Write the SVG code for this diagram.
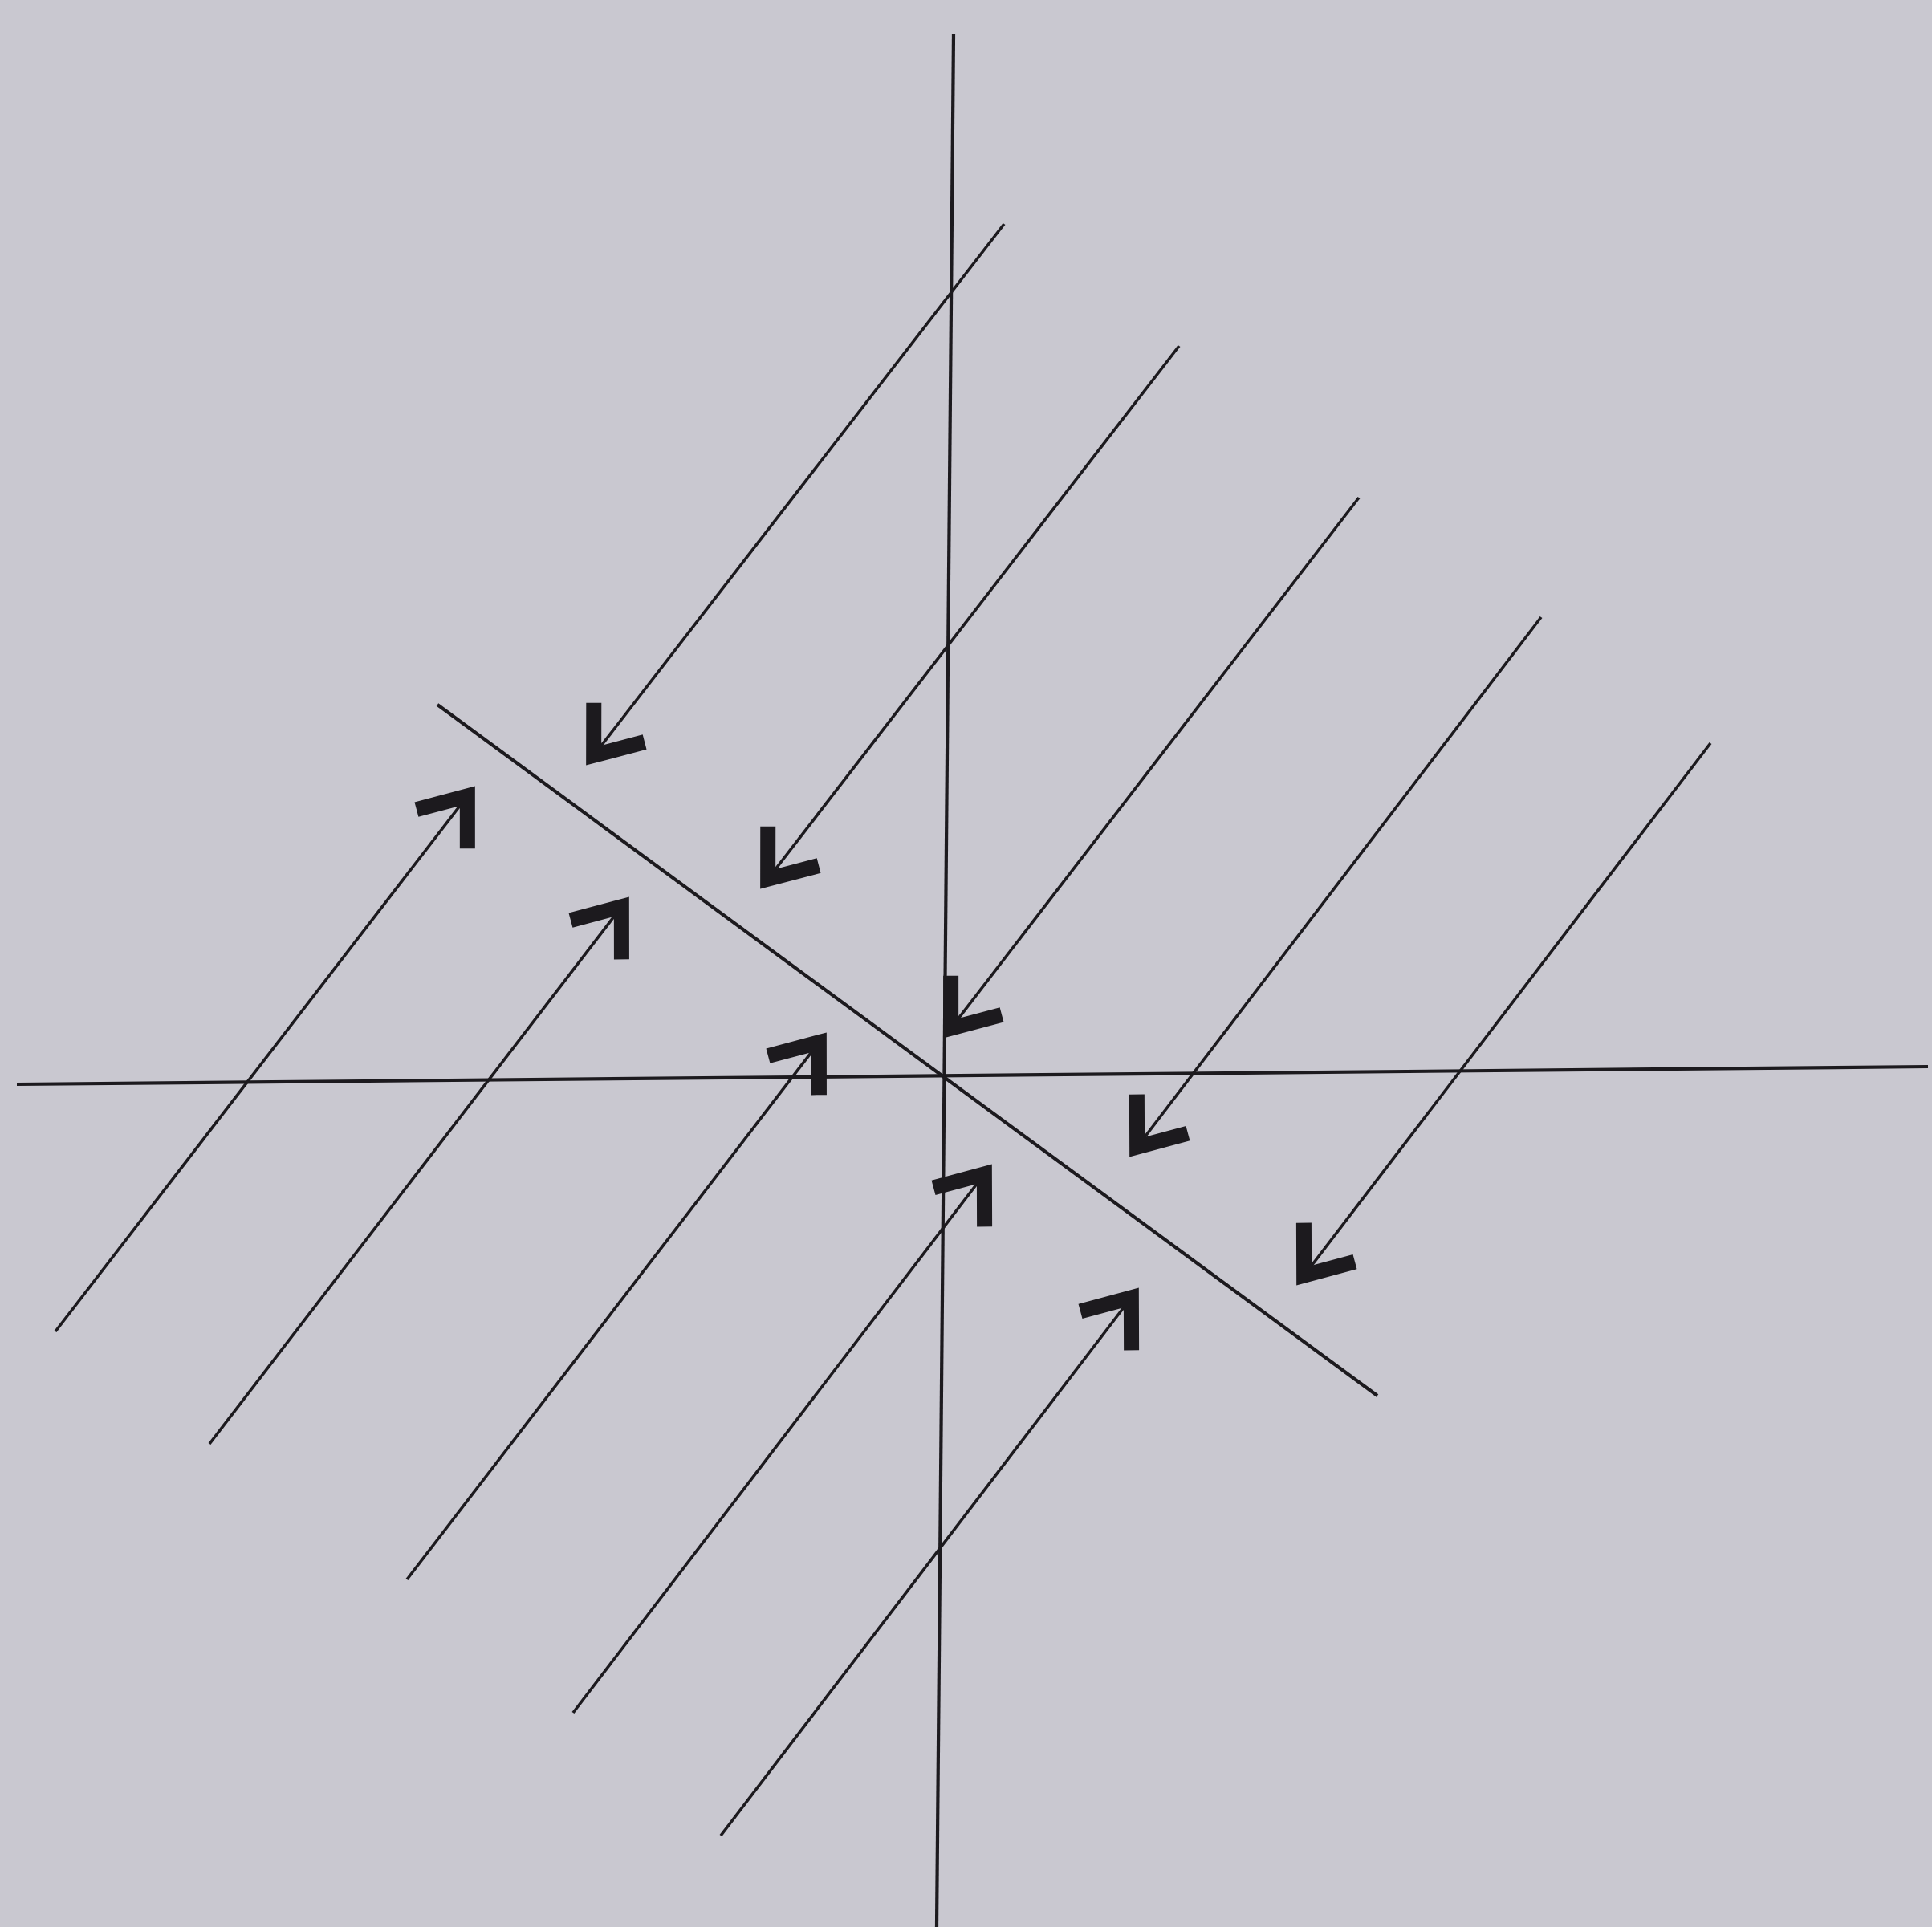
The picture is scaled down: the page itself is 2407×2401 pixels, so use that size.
<svg xmlns="http://www.w3.org/2000/svg" width="2407" height="2401" viewBox="0 0 2407 2401">
  <style>
    .axis { stroke: #1c1a1e; stroke-width: 4.2; fill: none; stroke-linecap: butt; }
    .traj { stroke: #1c1a1e; stroke-width: 3.6; fill: none; marker-end: url(#chev); }
  </style>
  <defs>
    <marker id="chev" markerUnits="userSpaceOnUse" viewBox="-80 -60 100 120" markerWidth="100" markerHeight="120" refX="0" refY="0" orient="auto">
      <path d="M -58 -40 L -6 0 L -58 40" fill="none" stroke="#1c1a1e" stroke-width="19" stroke-linejoin="miter" stroke-miterlimit="6"/>
    </marker>
  </defs>
  <rect x="0" y="0" width="2407" height="2401" fill="#c9c8d0"/>
  <g id="axes">
    <line class="axis" x1="1188" y1="42" x2="1167" y2="2401"/>
    <line class="axis" x1="21" y1="1351" x2="2402" y2="1329"/>
    <line class="axis" x1="545" y1="878" x2="1716" y2="1739"/>
  </g>
  <g id="connectors">
    <line class="traj" x1="1251" y1="279" x2="736" y2="946"/>
    <line class="traj" x1="1469" y1="431" x2="953" y2="1100"/>
    <line class="traj" x1="1693" y1="620" x2="1181" y2="1286"/>
    <line class="traj" x1="1920" y1="769" x2="1413" y2="1434"/>
    <line class="traj" x1="2131" y1="926" x2="1621" y2="1594"/>
    <line class="traj" x1="69" y1="1659" x2="586" y2="987"/>
    <line class="traj" x1="261" y1="1799" x2="778" y2="1125"/>
    <line class="traj" x1="507" y1="1968" x2="1024" y2="1294"/>
    <line class="traj" x1="714" y1="2134" x2="1230" y2="1458"/>
    <line class="traj" x1="898" y1="2287" x2="1413" y2="1612"/>
  </g>
</svg>
